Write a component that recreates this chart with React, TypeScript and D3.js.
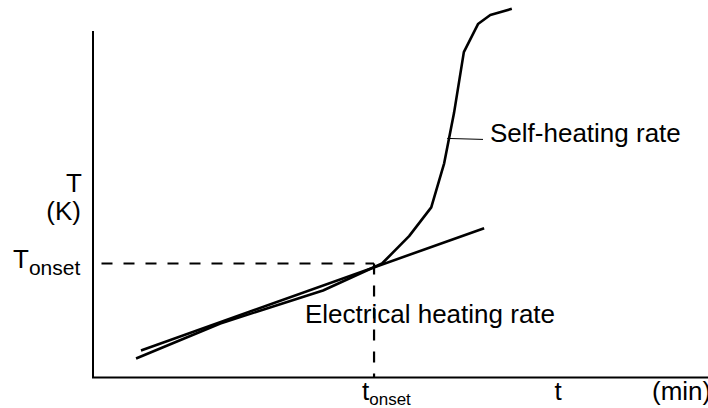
import React from "react";
import * as d3 from "d3";

// Data (arbitrary units: time 0..10, temperature 0..10)
const selfHeatingTime = [0.70, 2.07, 3.74, 4.70, 5.14, 5.50, 5.71, 5.87, 6.03, 6.26, 6.46, 6.81];
const selfHeatingTemp = [0.55, 1.56, 2.51, 3.29, 4.08, 4.91, 6.18, 7.63, 9.39, 10.20, 10.46, 10.64];
const electricalTime = [0.78, 6.36];
const electricalTemp = [0.78, 4.31];
const onsetTime = 4.57;
const onsetTemp = 3.29;
const yLabel = ["T", "(K)"];
const xLabel = ["t", "(min)"];
const seriesLabels = ["Self-heating rate", "Electrical heating rate"];

const W = 708;
const H = 408;
const FONT = "'Liberation Sans', Arial, Helvetica, sans-serif";

export default function App() {
  const x = d3.scaleLinear().domain([0, 10]).range([93, 708]);
  const y = d3.scaleLinear().domain([0, 10]).range([377.5, 31]);

  const line = d3
    .line<[number, number]>()
    .x((d) => x(d[0]))
    .y((d) => y(d[1]));

  const selfPts: [number, number][] = selfHeatingTime.map((t, i) => [t, selfHeatingTemp[i]]);
  const elecPts: [number, number][] = electricalTime.map((t, i) => [t, electricalTemp[i]]);

  // leader line anchor on curve (between points at t=5.71 and 5.87)
  const leaderT = 5.79;
  const leaderY = 6.9;

  return (
    <svg
      width={W}
      height={H}
      style={{ position: "absolute", left: 0, top: 0, background: "#fff" }}
      fontFamily={FONT}
    >
      <rect x={0} y={0} width={W} height={H} fill="#fff" />
      {/* axes */}
      <line x1={x(0)} y1={y(0)} x2={x(0)} y2={y(10)} stroke="#000" strokeWidth={2} />
      <line x1={x(0) - 1} y1={y(0)} x2={x(10)} y2={y(0)} stroke="#000" strokeWidth={2} />

      {/* curves */}
      <path d={line(elecPts) || ""} fill="none" stroke="#000" strokeWidth={2.6} />
      <path d={line(selfPts) || ""} fill="none" stroke="#000" strokeWidth={2.6} strokeLinejoin="round" />

      {/* labels */}
      <text x={490} y={142} fontSize={26} fill="#000">{seriesLabels[0]}</text>
      <line x1={x(leaderT) - 2} y1={y(leaderY)} x2={483} y2={y(leaderY) + 1} stroke="#000" strokeWidth={1} />
      <text x={305} y={323} fontSize={26} fill="#000">{seriesLabels[1]}</text>

      {/* onset dashed lines */}
      <line
        x1={x(0) + 8.5}
        y1={y(onsetTemp)}
        x2={x(onsetTime)}
        y2={y(onsetTemp)}
        stroke="#000"
        strokeWidth={2.2}
        strokeDasharray="11,11"
      />
      <line
        x1={x(onsetTime)}
        y1={y(onsetTemp)}
        x2={x(onsetTime)}
        y2={y(0)}
        stroke="#000"
        strokeWidth={2.2}
        strokeDasharray="11,11"
      />

      {/* y label */}
      <text x={82} y={192} fontSize={26} textAnchor="end" fill="#000">{yLabel[0]}</text>
      <text x={81} y={220} fontSize={26} textAnchor="end" fill="#000">{yLabel[1]}</text>
      <text x={13} y={268} fontSize={26} fill="#000">
        T<tspan fontSize={21} dy={7}>onset</tspan>
      </text>

      {/* x labels */}
      <text x={362} y={400} fontSize={26} fill="#000">
        t<tspan fontSize={17} dy={5}>onset</tspan>
      </text>
      <text x={558} y={400} fontSize={26} textAnchor="middle" fill="#000">{xLabel[0]}</text>
      <text x={652} y={400} fontSize={26} fill="#000">{xLabel[1]}</text>
    </svg>
  );
}
